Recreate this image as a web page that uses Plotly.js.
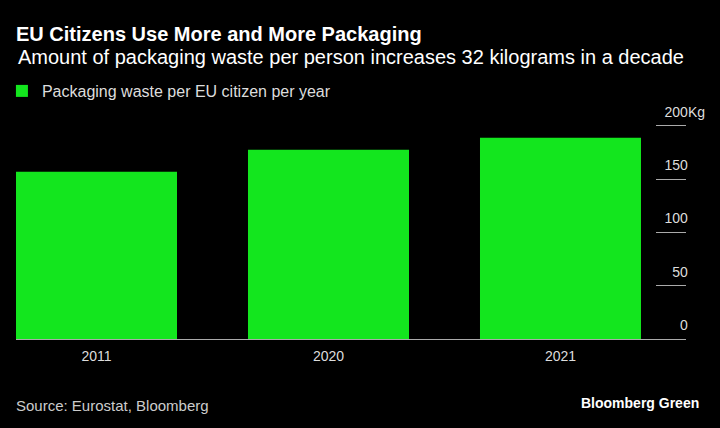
<!DOCTYPE html>
<html>
<head>
<meta charset="utf-8">
<script src="https://cdn.plot.ly/plotly-3.0.1.min.js"></script>
<style>html,body{margin:0;padding:0;background:#000;}#chart{width:720px;height:428px;}</style>
</head>
<body>
<div id="chart"></div>
<script>
const years = ['2011', '2020', '2021'];
const wastePerCitizen = [156.7, 177.4, 188.7];
const yTickValues = [0, 50, 100, 150, 200];
const yTickLabels = ['0', '50', '100', '150', '200'];
const seriesName = 'Packaging waste per EU citizen per year';
const titleText = 'EU Citizens Use More and More Packaging';
const subtitleText = 'Amount of packaging waste per person increases 32 kilograms in a decade';
const sourceText = 'Source: Eurostat, Bloomberg';
const brandText = 'Bloomberg Green';
const unitText = 'Kg';

const FONT = 'Liberation Sans, Arial, sans-serif';
const GREEN = '#13e61e';

// plot area in pixels (for converting text placements to paper coords)
const PL = 16, PR = 686, PT = 99, PB = 339;
const px = v => (v - PL) / (PR - PL);
const py = v => (PB - v) / (PB - PT);

const data = [{
  type: 'bar',
  x: years,
  y: wastePerCitizen,
  name: seriesName,
  marker: {color: GREEN, line: {width: 0}},
  hoverinfo: 'x+y',
  showlegend: true
}];

const layout = {
  width: 720, height: 428,
  paper_bgcolor: '#000', plot_bgcolor: '#000',
  margin: {l: PL, r: 720 - PR, t: PT, b: 428 - PB, pad: 0, autoexpand: false},
  font: {family: FONT, color: '#ddd'},
  bargap: 0.306,
  title: {
    text: '<b>' + titleText + '</b>',
    font: {family: FONT, size: 20, color: '#fff'},
    xref: 'container', x: 16/720, xanchor: 'left',
    yref: 'container', y: 1 - 27/428, yanchor: 'top',
    pad: {t: 0, l: 0}
  },
  showlegend: true,
  legend: {
    orientation: 'h', x: -0.021, xanchor: 'left', xref: 'paper',
    y: 1 - 74/428, yref: 'container', yanchor: 'top',
    font: {family: FONT, size: 16, color: '#ddd'},
    bgcolor: 'rgba(0,0,0,0)', itemclick: false, itemdoubleclick: false
  },
  xaxis: {
    type: 'category',
    range: [-0.347, 2.541],
    showline: true, linecolor: '#aaa', linewidth: 1,
    ticks: '', showgrid: false, zeroline: false,
    tickfont: {family: FONT, size: 14, color: '#ddd'},
    ticklabelstandoff: 4,
    fixedrange: true
  },
  yaxis: {
    side: 'right',
    range: [0, 225],
    tickvals: yTickValues, ticktext: yTickLabels,
    ticks: 'inside', ticklen: 30, tickcolor: '#aaa', tickwidth: 1,
    ticklabelposition: 'inside',
    ticklabelshift: -14,
    ticklabelstandoff: -32,
    showgrid: false, zeroline: false, showline: false,
    tickfont: {family: FONT, size: 14, color: '#ddd'},
    fixedrange: true
  },
  annotations: [
    {text: subtitleText, xref: 'paper', x: px(16), xanchor: 'left', yref: 'paper', y: py(57), yanchor: 'middle',
     showarrow: false, font: {family: FONT, size: 20, color: '#fff'}},
    {text: unitText, xref: 'paper', x: 1, xanchor: 'left', yref: 'y', y: yTickValues[yTickValues.length-1],
     yanchor: 'middle', yshift: 14, showarrow: false,
     font: {family: FONT, size: 14, color: '#ddd'}},
    {text: sourceText, xref: 'paper', x: px(14), xanchor: 'left', yref: 'paper', y: py(405), yanchor: 'middle',
     showarrow: false, font: {family: FONT, size: 15, color: '#ccc'}},
    {text: '<b>' + brandText + '</b>', xref: 'paper', x: px(701), xanchor: 'right', yref: 'paper', y: py(403), yanchor: 'middle',
     showarrow: false, font: {family: FONT, size: 14, color: '#fff'}}
  ]
};

Plotly.newPlot('chart', data, layout, {displayModeBar: false, staticPlot: true});
</script>
</body>
</html>
